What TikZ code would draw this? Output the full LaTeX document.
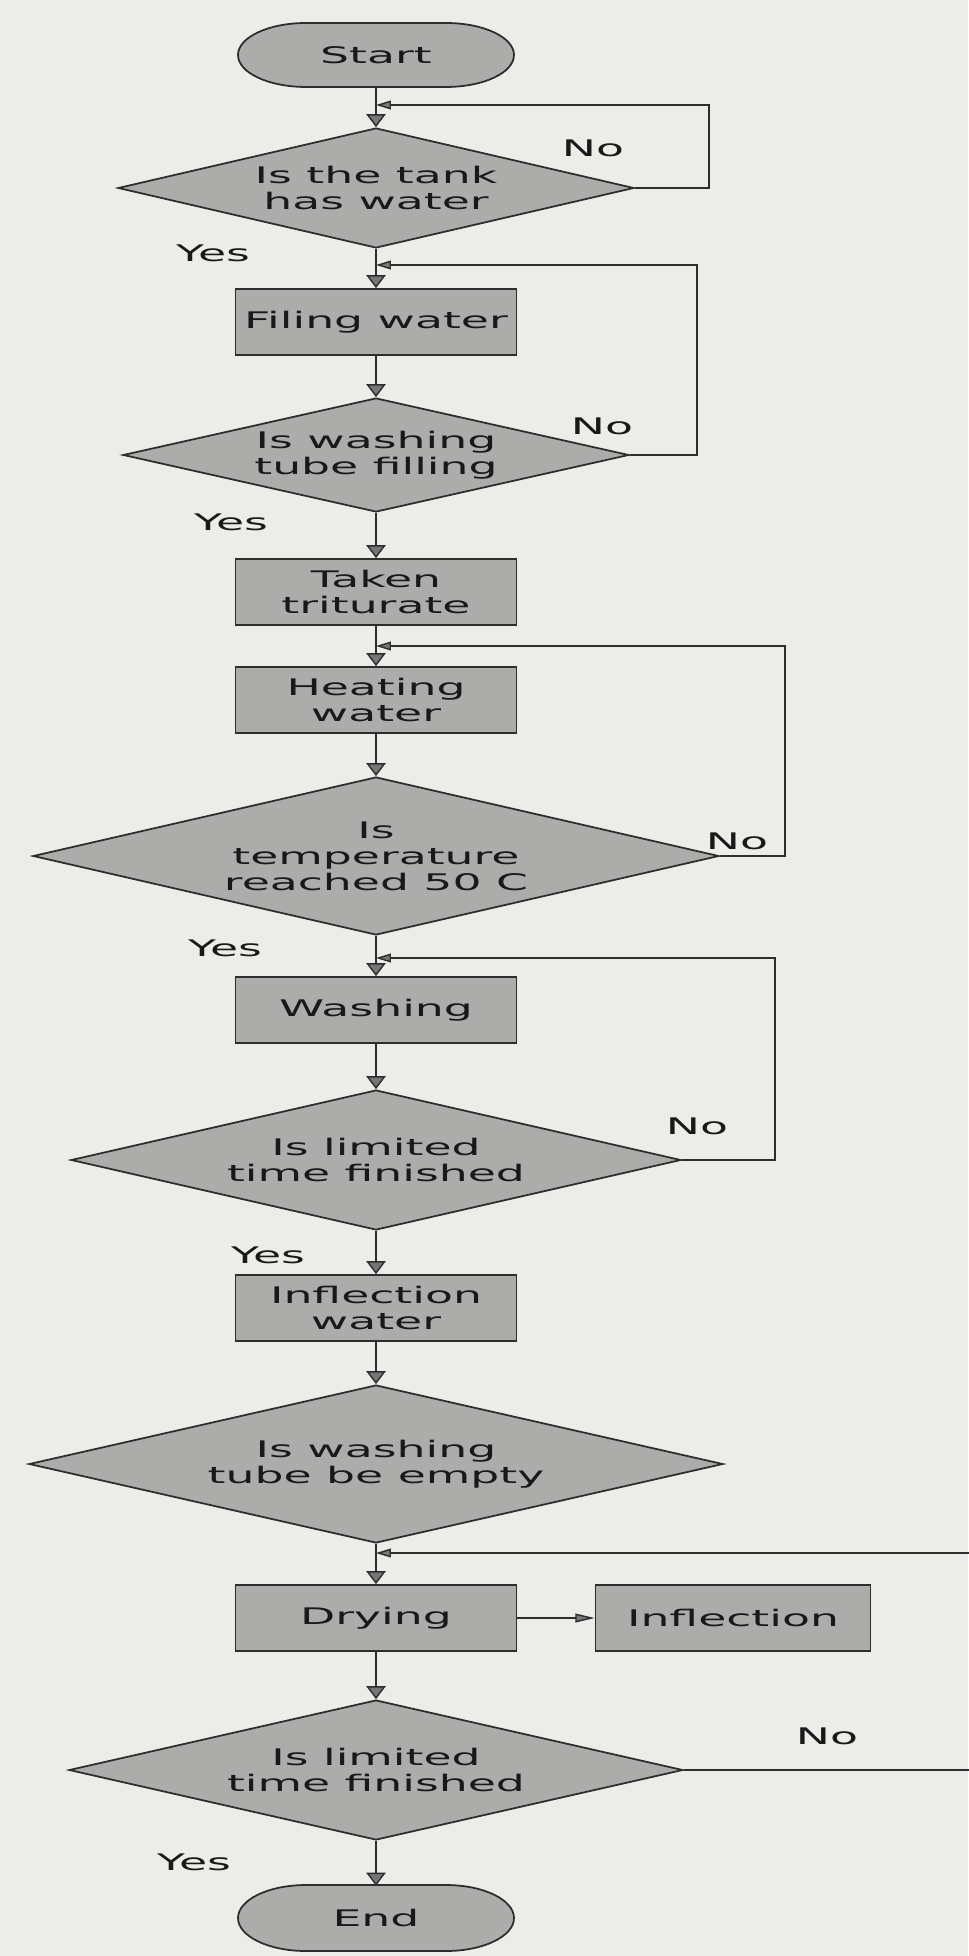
\documentclass[tikz,border=0pt]{standalone}
\usepackage{fontspec}
\setmainfont{DejaVu Sans}[FakeStretch=2.0]
\usetikzlibrary{shapes,arrows.meta}

\definecolor{paper}{RGB}{236,236,233}
\definecolor{boxgray}{RGB}{172,172,170}
\definecolor{linegray}{RGB}{45,45,45}
\definecolor{tipgray}{RGB}{118,118,118}

\tikzset{
        txt/.style={font=\fontsize{13}{14.8}\selectfont, text=black!90},
        process/.style={txt, rectangle, draw=linegray, fill=boxgray, line width=1pt,
                minimum width=5.62cm, minimum height=1.32cm, inner sep=1pt, align=center},
        decision/.style={txt, diamond, draw=linegray, fill=boxgray, line width=1pt,
                inner sep=0pt, align=center},
        termtext/.style={txt, minimum width=5.52cm, minimum height=1.28cm, inner sep=0pt},
        termline/.style={draw=linegray, fill=boxgray, line width=1pt},
        down/.style={draw=linegray, line width=0.8pt,
                -{Triangle[width=11pt, length=7.4pt, fill=tipgray]}},
        back/.style={draw=linegray, line width=0.8pt,
                -{Triangle[width=5pt, length=8.5pt, fill=tipgray]}},
        side/.style={draw=linegray, line width=0.8pt,
                -{Triangle[width=5pt, length=11pt, fill=tipgray]}},
        lbl/.style={txt, inner sep=0pt},
}

\begin{document}
\begin{tikzpicture}[x=0.02cm, y=-0.02cm]
        % Page
        \fill [paper, use as bounding box] (0,0) rectangle (968,1956);

        % Start and end terminals
        \draw [termline] (376,55) ++(-70,-32) -- ++(140,0)
                arc [start angle=90, end angle=-90, x radius=1.36cm, y radius=0.64cm]
                -- ++(-140,0)
                arc [start angle=270, end angle=90, x radius=1.36cm, y radius=0.64cm] -- cycle;
        \node [termtext] (start) at (376,55) {Start};
        \draw [termline] (376,1918) ++(-70,-33) -- ++(140,0)
                arc [start angle=90, end angle=-90, x radius=1.36cm, y radius=0.66cm]
                -- ++(-140,0)
                arc [start angle=270, end angle=90, x radius=1.36cm, y radius=0.66cm] -- cycle;
        \node [termtext] (end) at (376,1918) {End};

        % Steps and checks down the middle
        \node [decision, minimum width=10.32cm, minimum height=2.4cm, shape aspect=4.3] (d1) at (376,188) {Is the tank\\has water};
        \node [process] (filling) at (376,322) {Filing water};
        \node [decision, minimum width=10.12cm, minimum height=2.28cm, shape aspect=4.4] (d2) at (376,455) {Is washing\\tube filling};
        \node [process] (taken) at (376,592) {Taken\\triturate};
        \node [process] (heating) at (376,700) {Heating\\water};
        \node [decision, minimum width=13.72cm, minimum height=3.16cm, shape aspect=4.3] (d3) at (376,856) {Is\\temperature\\reached 50 C};
        \node [process] (washing) at (376,1010) {Washing};
        \node [decision, minimum width=12.2cm, minimum height=2.8cm, shape aspect=4.4] (d4) at (376,1160) {Is limited\\time finished};
        \node [process] (drain) at (376,1308) {Inflection\\water};
        \node [decision, minimum width=13.88cm, minimum height=3.16cm, shape aspect=4.4] (d5) at (376,1464) {Is washing\\tube be empty};
        \node [process] (drying) at (376,1618) {Drying};
        \node [process, minimum width=5.5cm] (inflection) at (733,1618) {Inflection};
        \node [decision, minimum width=12.28cm, minimum height=2.8cm, shape aspect=4.4] (d6) at (376,1770) {Is limited\\time finished};

        % Where the loops come back in
        \coordinate (j1) at (376,105);
        \coordinate (j2) at (376,265);
        \coordinate (j3) at (376,646);
        \coordinate (j4) at (376,958);
        \coordinate (j6) at (376,1553);

        % Main flow
        \draw [down] (start.south) -- (d1.north);
        \draw [down] (d1.south) -- (filling.north);
        \draw [down] (filling.south) -- (d2.north);
        \draw [down] (d2.south) -- (taken.north);
        \draw [down] (taken.south) -- (heating.north);
        \draw [down] (heating.south) -- (d3.north);
        \draw [down] (d3.south) -- (washing.north);
        \draw [down] (washing.south) -- (d4.north);
        \draw [down] (d4.south) -- (drain.north);
        \draw [down] (drain.south) -- (d5.north);
        \draw [down] (d5.south) -- (drying.north);
        \draw [down] (drying.south) -- (d6.north);
        \draw [down] (d6.south) -- (end.north);
        \draw [side] (drying.east) -- (inflection.west);

        % No loops
        \draw [back] (d1.east) -- ++(74,0) |- (j1);
        \draw [back] (d2.east) -- ++(67,0) |- (j2);
        \draw [back] (d3.east) -- ++(65,0) |- (j3);
        \draw [back] (d4.east) -- ++(93,0) |- (j4);
        \draw [back] (d6.east) -- ++(320,0) |- (j6);

        % Yes / No labels
        \node [lbl] (no1) at (593,148) {No};
        \node [lbl] (no2) at (602,426) {No};
        \node [lbl] (no3) at (737,841) {No};
        \node [lbl] (no4) at (697,1126) {No};
        \node [lbl] (no6) at (827,1736) {No};
        \node [lbl] (yes1) at (213,253) {Yes};
        \node [lbl] (yes2) at (231,522) {Yes};
        \node [lbl] (yes3) at (225,948) {Yes};
        \node [lbl] (yes4) at (268,1255) {Yes};
        \node [lbl] (yes6) at (194,1862) {Yes};
\end{tikzpicture}
\end{document}
